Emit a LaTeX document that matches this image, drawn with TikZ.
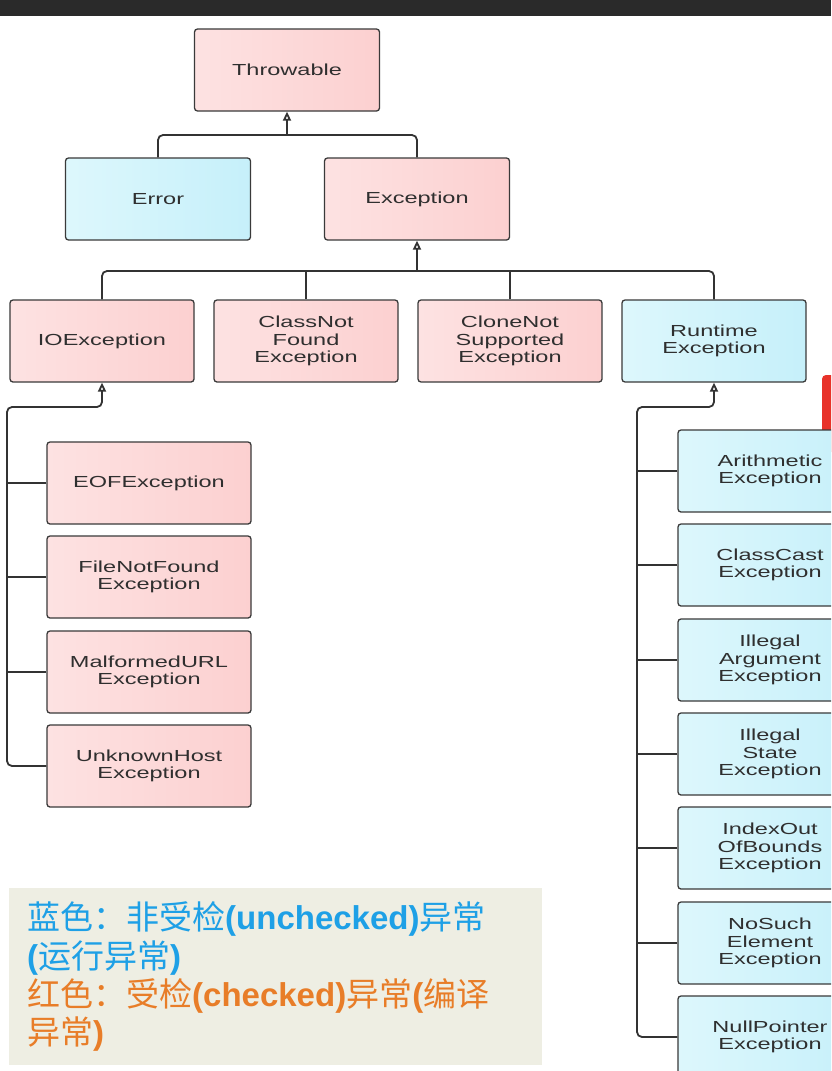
\documentclass[tikz,border=0pt]{standalone}
\usepackage{fontspec}
\usetikzlibrary{arrows.meta}
\newfontfamily\boxfont[FakeStretch=1.47]{Liberation Sans}
\newfontfamily\legendfont{Liberation Sans}
\newfontfamily\cjk{Noto Sans CJK SC}
\definecolor{boxline}{HTML}{3A3A3A}
\definecolor{boxtext}{HTML}{2F2F2F}
\definecolor{linegray}{HTML}{333333}
\definecolor{pinkleft}{HTML}{FDE2E2}
\definecolor{pinkright}{HTML}{FCD0D0}
\definecolor{blueleft}{HTML}{DDF7FC}
\definecolor{blueright}{HTML}{C6F0FA}
\definecolor{legendback}{HTML}{EEEEE3}
\definecolor{legendblue}{HTML}{1EA0E6}
\definecolor{legendorange}{HTML}{E87D28}
\definecolor{topbar}{HTML}{2A2A2A}
\definecolor{overlayred}{HTML}{E8322A}
\newcommand{\zh}[1]{{\cjk #1}}
\newcommand{\en}[1]{{\legendfont\bfseries #1}}
\begin{document}
\begin{tikzpicture}
[x=1pt, y=-1pt,
  boxdecorate/.style={draw=boxline, line width=1.3pt, rounded corners=3pt,
    minimum height=82pt, inner sep=0pt, align=center, text=boxtext,
    font=\boxfont\fontsize{16}{17.7}\selectfont},
  checkeddecorate/.style={boxdecorate, left color=pinkleft, right color=pinkright},
  uncheckeddecorate/.style={boxdecorate, left color=blueleft, right color=blueright},
  linedecorate/.style={draw=linegray, line width=1.8pt, rounded corners=5pt},
  arrowdecorate/.style={linedecorate, -{Triangle[open, length=9pt, width=8pt]}},
  legenddecorate/.style={fill=legendback, anchor=north west, align=left,
    minimum width=533pt, minimum height=177pt, text width=497pt,
    inner xsep=18pt, font=\fontsize{33}{38.3}\selectfont}]
\clip (0,0) rectangle (831,1071);
\fill[white] (0,0) rectangle (831,1071);
\fill[topbar] (0,0) rectangle (831,16);
\fill[overlayred, rounded corners=4pt] (822,375) rectangle (845,452);
%% nodes of the hierarchy
\foreach \nodename/\x/\y/\w/\kind/\label in {
  throw/287/70/185/checkeddecorate/Throwable,
  error/158/199/185/uncheckeddecorate/Error,
  exc/417/199/185/checkeddecorate/Exception,
  ioexc/102/341/184/checkeddecorate/IOException,
  cnf/306/341/184/checkeddecorate/ClassNot\\Found\\Exception,
  cns/510/341/184/checkeddecorate/CloneNot\\Supported\\Exception,
  rtexc/714/341/184/uncheckeddecorate/Runtime\\Exception}
{
  \node (\nodename) at (\x,\y) [\kind, minimum width=\w pt] {\label};
}
\foreach \nodename/\y/\label in {eof/483/EOFException,
  fnf/577/FileNotFound\\Exception, murl/672/MalformedURL\\Exception,
  uhost/766/UnknownHost\\Exception}
{
  \node (\nodename) at (149,\y) [checkeddecorate, minimum width=204pt] {\label};
}
\foreach \nodename/\y/\label in {arith/471/Arithmetic\\Exception,
  ccast/565/ClassCast\\Exception, illarg/660/Illegal\\Argument\\Exception,
  illstate/754/Illegal\\State\\Exception,
  ioob/848/IndexOut\\OfBounds\\Exception,
  nse/943/NoSuch\\Element\\Exception, npe/1037/NullPointer\\Exception}
{
  \node (\nodename) at (770,\y) [uncheckeddecorate, minimum width=184pt] {\label};
}
%% joints of the connectors
\coordinate (throwjoin) at (287,135);
\coordinate (excjoin) at (417,271);
\coordinate (iotrunk) at (7,407);
\coordinate (rttrunk) at (637,407);
%% edges or lines
\draw[arrowdecorate] (throwjoin) -- (throw.south);
\draw[linedecorate] (error.north) |- (throwjoin) -| (exc.north);
\draw[arrowdecorate] (excjoin) -- (exc.south);
\draw[linedecorate] (ioexc.north) |- (excjoin) -| (rtexc.north);
\foreach \child in {cnf, cns}
{
  \draw[linedecorate] (\child.north) -- (\child.north |- excjoin);
}
\draw[arrowdecorate] (uhost.west) -| (iotrunk) -| (ioexc.south);
\foreach \child in {eof, fnf, murl}
{
  \draw[linedecorate] (\child.west) -- (\child.west -| iotrunk);
}
\draw[arrowdecorate] (npe.west) -| (rttrunk) -| (rtexc.south);
\foreach \child in {arith, ccast, illarg, illstate, ioob, nse}
{
  \draw[linedecorate] (\child.west) -- (\child.west -| rttrunk);
}
%% legend
\node (legend) at (9,888) [legenddecorate]
{\color{legendblue}\zh{蓝色：非受检}\en{(unchecked)}\zh{异常}\\
 \en{(}\zh{运行异常}\en{)}\\
 \color{legendorange}\zh{红色：受检}\en{(checked)}\zh{异常}\en{(}\zh{编译}\\
 \zh{异常}\en{)}};
\end{tikzpicture}
\end{document}
